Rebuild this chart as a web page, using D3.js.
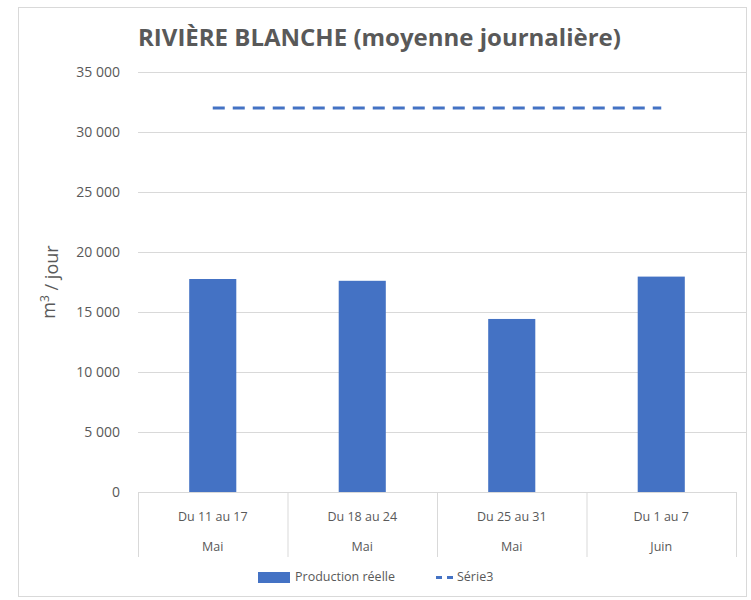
<!DOCTYPE html>
<html lang="fr">
<head>
    <meta charset="utf-8">
    <title>Rivière Blanche</title>
    <script src="https://d3js.org/d3.v7.min.js"></script>
    <style>
        body { margin: 0; background: #fff; }
        text { font-family: "Open Sans", sans-serif; fill: #595959; }
    </style>
</head>
<body>
    <svg id="chart" width="751" height="600"></svg>
    <script>
        // data
        var weeks = ["Du 11 au 17", "Du 18 au 24", "Du 25 au 31", "Du 1 au 7"];
        var months = ["Mai", "Mai", "Mai", "Juin"];
        var production = [17750, 17600, 14420, 17950];
        var serie3 = [32000, 32000, 32000, 32000];
        var yTicks = [0, 5000, 10000, 15000, 20000, 25000, 30000, 35000];

        var svg = d3.select("#chart");
        var plotL = 138, plotR = 736, plotT = 72, plotB = 492;

        // outer frame
        svg.append("rect")
            .attr("x", 18.5).attr("y", 7.5)
            .attr("width", 728).attr("height", 589)
            .attr("fill", "none").attr("stroke", "#d9d9d9");

        var x = d3.scaleBand().domain(weeks).range([plotL, plotR]);
        var y = d3.scaleLinear().domain([0, 35000]).range([plotB, plotT]);
        var fmt = function(d) { return d3.format(",")(d).replace(/,/g, " "); };

        // gridlines + tick labels
        svg.append("g").selectAll("line")
            .data(yTicks.filter(function(d) { return d > 0; }))
            .enter().append("line")
            .attr("x1", plotL).attr("x2", plotR + 10)
            .attr("y1", function(d) { return y(d) + 0.5; })
            .attr("y2", function(d) { return y(d) + 0.5; })
            .attr("stroke", "#d9d9d9");

        svg.append("g").selectAll("text")
            .data(yTicks)
            .enter().append("text")
            .attr("x", 120)
            .attr("y", function(d) { return y(d); })
            .attr("dy", "0.35em")
            .attr("text-anchor", "end")
            .style("font-size", "14px")
            .text(fmt);

        // bars
        var barW = x.bandwidth() * 0.315;
        svg.append("g").selectAll("rect")
            .data(production)
            .enter().append("rect")
            .attr("x", function(d, i) { return x(weeks[i]) + (x.bandwidth() - barW) / 2; })
            .attr("y", function(d) { return y(d); })
            .attr("width", barW)
            .attr("height", function(d) { return plotB - y(d); })
            .attr("fill", "#4472c4");

        // category axis boxes
        var axis = svg.append("g");
        axis.append("line")
            .attr("x1", plotL).attr("x2", plotR)
            .attr("y1", plotB + 0.5).attr("y2", plotB + 0.5)
            .attr("stroke", "#d9d9d9");
        axis.selectAll(".div")
            .data(weeks.concat(["end"]))
            .enter().append("line")
            .attr("x1", function(d, i) { return plotL + i * x.step() + 0.5; })
            .attr("x2", function(d, i) { return plotL + i * x.step() + 0.5; })
            .attr("y1", plotB).attr("y2", 557)
            .attr("stroke", "#d9d9d9");
        axis.selectAll(".wk")
            .data(weeks)
            .enter().append("text")
            .attr("x", function(d) { return x(d) + x.bandwidth() / 2; })
            .attr("y", 517).attr("dy", "0.35em")
            .attr("text-anchor", "middle")
            .style("font-size", "12.5px")
            .text(function(d) { return d; });
        axis.selectAll(".mo")
            .data(months)
            .enter().append("text")
            .attr("x", function(d, i) { return x(weeks[i]) + x.bandwidth() / 2; })
            .attr("y", 547).attr("dy", "0.35em")
            .attr("text-anchor", "middle")
            .style("font-size", "12.5px")
            .text(function(d) { return d; });

        // Série3 dashed line
        var line = d3.line()
            .x(function(d, i) { return x(weeks[i]) + x.bandwidth() / 2; })
            .y(function(d) { return y(d); });
        svg.append("path")
            .datum(serie3)
            .attr("d", line)
            .attr("fill", "none")
            .attr("stroke", "#4472c4")
            .attr("stroke-width", 3)
            .attr("stroke-dasharray", "12,8");

        // title
        svg.append("text")
            .attr("x", 138).attr("y", 46)
            .style("font-size", "24px")
            .style("font-weight", "bold")
            .text("RIVIÈRE BLANCHE (moyenne journalière)");

        // y label
        var yl = svg.append("text")
            .attr("transform", "translate(55,282) rotate(-90)")
            .attr("text-anchor", "middle")
            .style("font-size", "18px");
        yl.append("tspan").text("m");
        yl.append("tspan").attr("dy", "-0.5em").style("font-size", "12px").text("3");
        yl.append("tspan").attr("dy", "0.5em").text(" / jour");

        // legend
        var lg = svg.append("g");
        lg.append("rect")
            .attr("x", 258).attr("y", 572).attr("width", 32).attr("height", 11)
            .attr("fill", "#4472c4");
        lg.append("text")
            .attr("x", 295).attr("y", 577).attr("dy", "0.35em")
            .style("font-size", "12.5px")
            .text("Production réelle");
        lg.append("line")
            .attr("x1", 436).attr("x2", 453).attr("y1", 577.5).attr("y2", 577.5)
            .attr("stroke", "#4472c4").attr("stroke-width", 3)
            .attr("stroke-dasharray", "6,5");
        lg.append("text")
            .attr("x", 457).attr("y", 577).attr("dy", "0.35em")
            .style("font-size", "12.5px")
            .text("Série3");
    </script>
</body>
</html>
